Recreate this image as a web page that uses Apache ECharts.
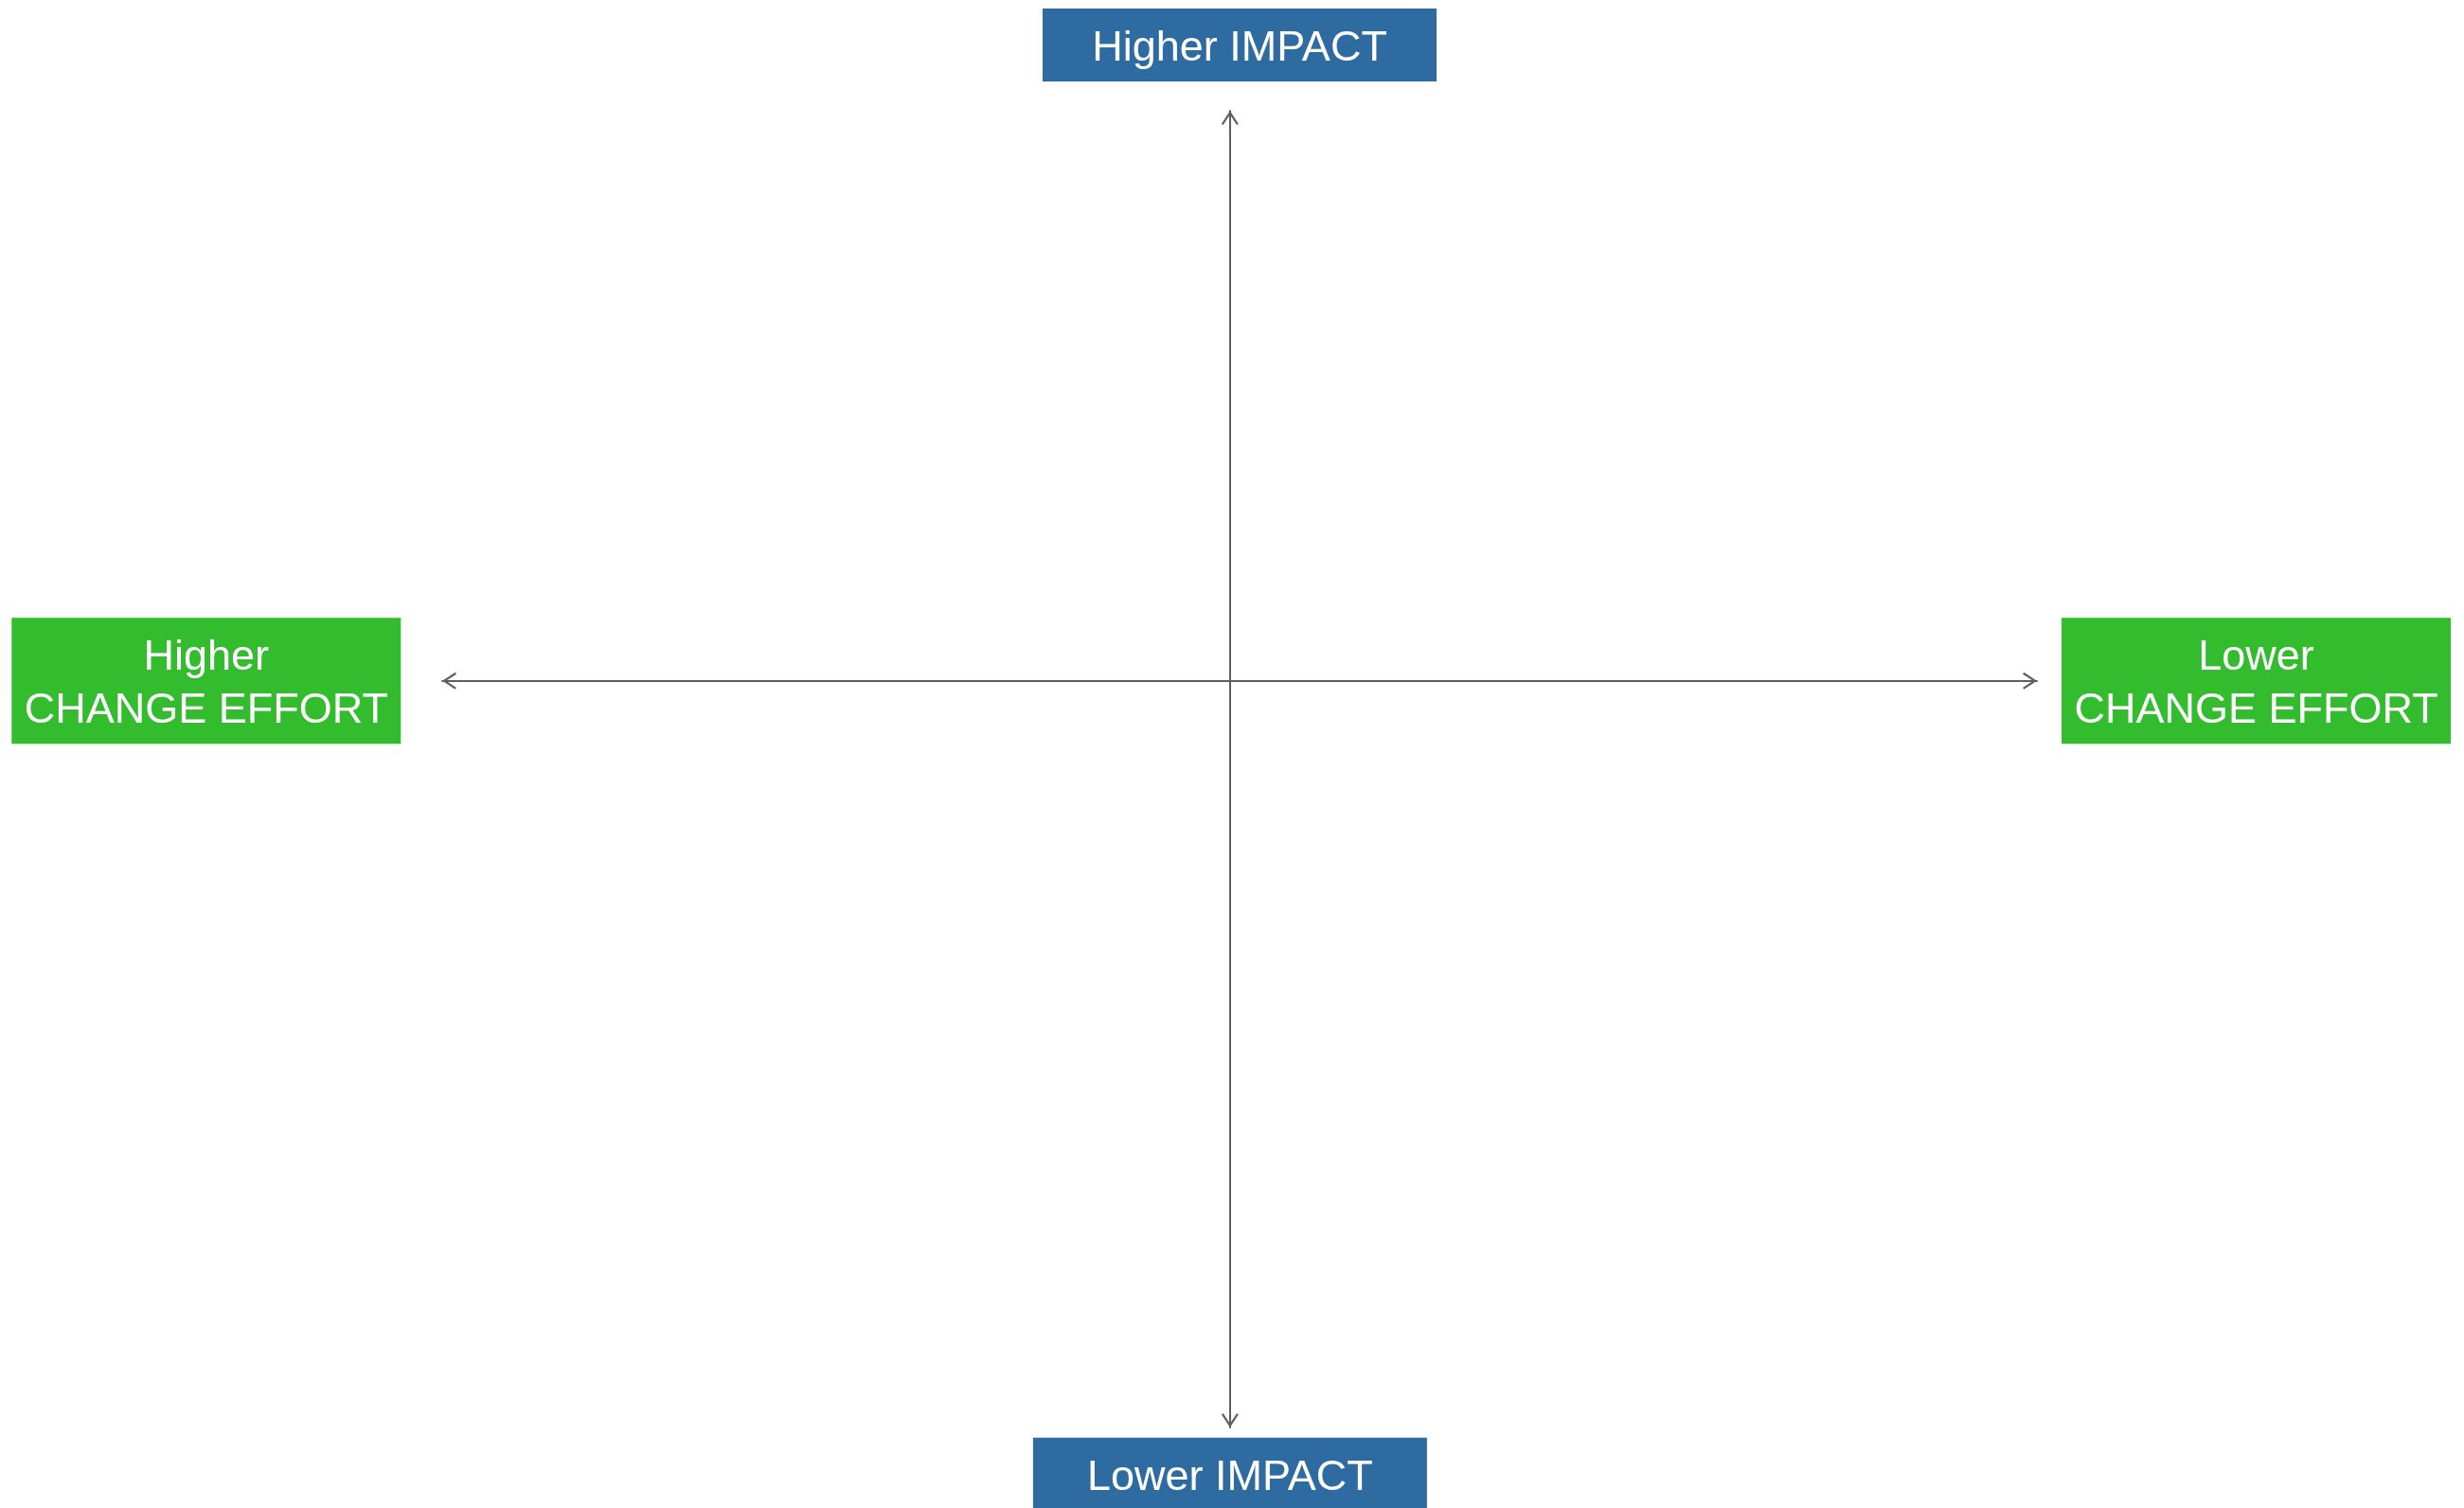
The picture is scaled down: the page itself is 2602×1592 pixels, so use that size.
<!DOCTYPE html>
<html>
<head>
<meta charset="utf-8">
<title>Impact vs Change Effort</title>
<script src="https://cdn.jsdelivr.net/npm/echarts@6/dist/echarts.min.js"></script>
<style>
  html, body { margin: 0; padding: 0; background: #fff; }
  #chart { width: 2602px; height: 1592px; }
</style>
</head>
<body>
<div id="chart"></div>
<script>
// labelled boxes at the four ends of the axes
const boxLabels = ['Higher IMPACT', 'Lower IMPACT', 'Higher\nCHANGE EFFORT', 'Lower\nCHANGE EFFORT']
const boxX = [1.2, 0, -128.4, 128.7]
const boxY = [96.6, -120.5, 0, 0]
const boxKind = ['impact', 'impact', 'effort', 'effort']

const kindColor = { impact: '#2D6BA1', effort: '#33BC2E' }
const kindSize = { impact: [416, 77], effort: [411, 133] }

// open chevron used for both ends of each axis
const chevron = 'path://M5,0 L10,7.6 L9,8.3 L5,2.2 L1,8.3 L0,7.6 Z'

const axisLine = {
  show: true,
  onZero: true,
  symbol: [chevron, chevron],
  symbolSize: [18, 15],
  symbolOffset: [7.5, -7.5],
  lineStyle: { color: '#5f5f5f', width: 2 }
}

const chart = echarts.init(document.getElementById('chart'))

const option = {
  animation: false,
  grid: { left: 467, right: 451, top: 117, bottom: 85 },
  xAxis: {
    type: 'value',
    min: -98.8,
    max: 101.2,
    axisLine: axisLine,
    axisTick: { show: false },
    axisLabel: { show: false },
    splitLine: { show: false }
  },
  yAxis: {
    type: 'value',
    min: -113.4,
    max: 86.6,
    axisLine: axisLine,
    axisTick: { show: false },
    axisLabel: { show: false },
    splitLine: { show: false }
  },
  series: [{
    type: 'scatter',
    clip: false,
    symbol: 'rect',
    data: boxLabels.map((name, i) => ({
      name: name,
      value: [boxX[i], boxY[i]],
      symbolSize: kindSize[boxKind[i]],
      itemStyle: { color: kindColor[boxKind[i]], opacity: 1 }
    })),
    label: {
      show: true,
      position: 'inside',
      offset: [0, 4],
      formatter: p => p.name,
      color: '#fff',
      fontFamily: 'Liberation Sans, Arial, sans-serif',
      fontSize: 45,
      lineHeight: 56,
      align: 'center'
    },
    emphasis: { disabled: true }
  }]
}

chart.setOption(option)
</script>
</body>
</html>
